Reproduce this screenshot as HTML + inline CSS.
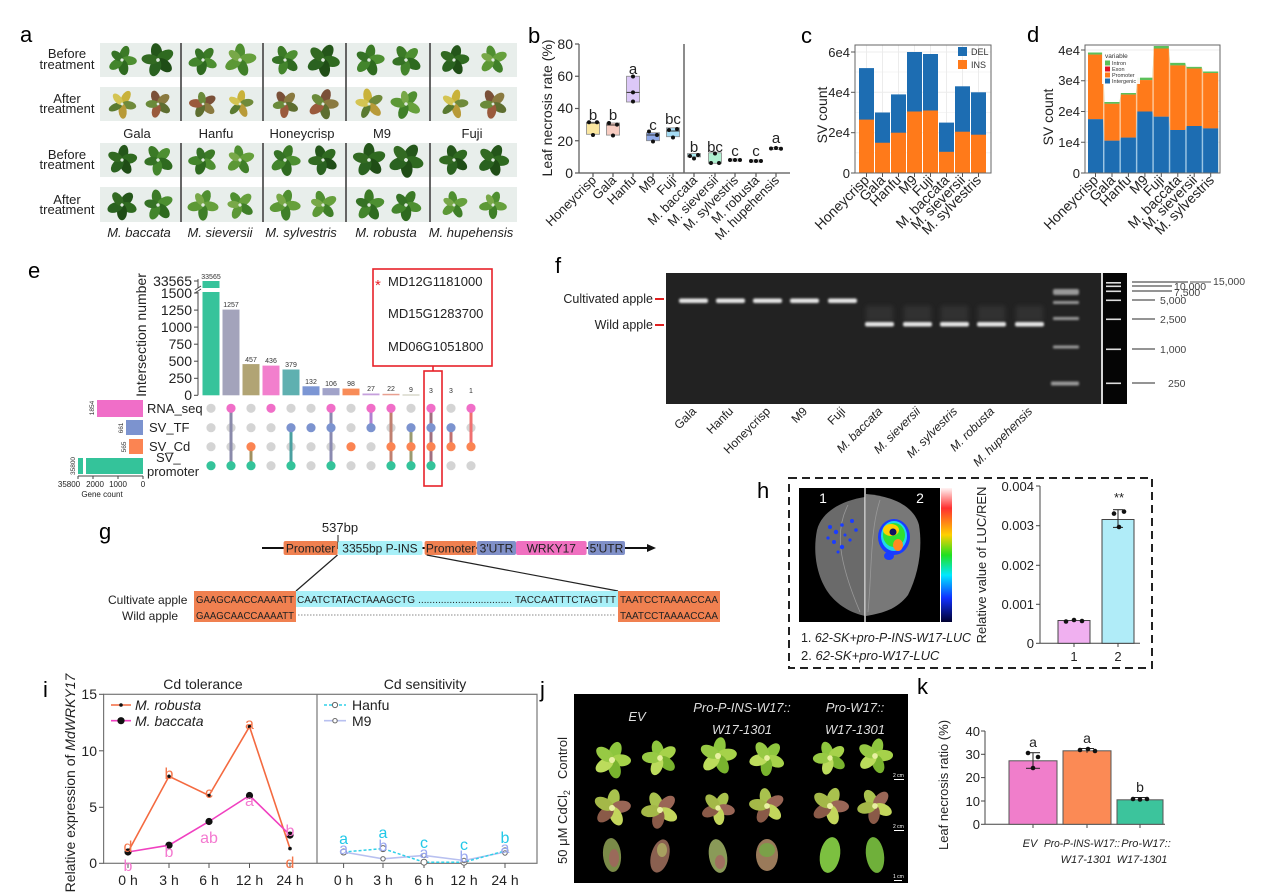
<!DOCTYPE html>
<html><head><meta charset="utf-8"><style>
html,body{margin:0;padding:0;background:#fff;}
svg{display:block;font-family:"Liberation Sans",Arial,sans-serif;}
</style></head><body>
<svg width="1268" height="896" viewBox="0 0 1268 896" xmlns="http://www.w3.org/2000/svg">
<defs>
<filter id="bl" x="-20%" y="-50%" width="140%" height="200%"><feGaussianBlur stdDeviation="1.1"/></filter>
<filter id="bl2" x="-20%" y="-50%" width="140%" height="200%"><feGaussianBlur stdDeviation="2.5"/></filter>
<linearGradient id="cbar" x1="0" y1="0" x2="0" y2="1">
<stop offset="0" stop-color="#fff4f4"/><stop offset="0.15" stop-color="#ff3030"/><stop offset="0.35" stop-color="#ffd000"/><stop offset="0.5" stop-color="#20e020"/><stop offset="0.65" stop-color="#00e8ff"/><stop offset="0.82" stop-color="#1030ff"/><stop offset="1" stop-color="#000030"/>
</linearGradient>
<g id="pg">
<ellipse cx="0" cy="-8" rx="5" ry="8.5" fill="#3b7a26"/>
<ellipse cx="0" cy="-8" rx="5" ry="8.5" fill="#4d8f31" transform="rotate(75)"/>
<ellipse cx="0" cy="-8" rx="5.5" ry="9" fill="#2e6a1f" transform="rotate(150)"/>
<ellipse cx="0" cy="-8" rx="5" ry="8.5" fill="#43852c" transform="rotate(215)"/>
<ellipse cx="0" cy="-7" rx="4.5" ry="7.5" fill="#357225" transform="rotate(290)"/>
<circle r="1.8" fill="#e0eadf"/>
</g>
<g id="pd">
<ellipse cx="0" cy="-8" rx="5.5" ry="9" fill="#24561a"/>
<ellipse cx="0" cy="-8" rx="5.5" ry="9" fill="#2f6a20" transform="rotate(70)"/>
<ellipse cx="0" cy="-8" rx="5.5" ry="9" fill="#1f4d16" transform="rotate(140)"/>
<ellipse cx="0" cy="-8" rx="5.5" ry="9" fill="#2a6220" transform="rotate(210)"/>
<ellipse cx="0" cy="-8" rx="5" ry="8.5" fill="#326a22" transform="rotate(285)"/>
<circle r="1.8" fill="#e0eadf"/>
</g>
<g id="pl">
<ellipse cx="0" cy="-8" rx="5" ry="8.5" fill="#4f8f30"/>
<ellipse cx="0" cy="-8" rx="5" ry="8.5" fill="#66a03c" transform="rotate(80)"/>
<ellipse cx="0" cy="-8" rx="5" ry="8.5" fill="#3f7f28" transform="rotate(160)"/>
<ellipse cx="0" cy="-8" rx="5" ry="8.5" fill="#5c9836" transform="rotate(240)"/>
<ellipse cx="0" cy="-7" rx="4" ry="7" fill="#78a848" transform="rotate(310)"/>
<circle r="1.8" fill="#e0eadf"/>
</g>
<g id="py">
<ellipse cx="0" cy="-8" rx="4.5" ry="8.5" fill="#c9b23a"/>
<ellipse cx="0" cy="-8" rx="4.5" ry="8" fill="#6f8a3a" transform="rotate(70)"/>
<ellipse cx="0" cy="-8" rx="4.5" ry="8.5" fill="#b89a38" transform="rotate(145)"/>
<ellipse cx="0" cy="-8" rx="4" ry="8" fill="#5a7a30" transform="rotate(215)"/>
<ellipse cx="0" cy="-7" rx="4" ry="7.5" fill="#d4c452" transform="rotate(290)"/>
<circle r="1.6" fill="#e0eadf"/>
</g>
<g id="pb">
<ellipse cx="0" cy="-8" rx="5" ry="8.5" fill="#7a5038"/>
<ellipse cx="0" cy="-8" rx="5" ry="8.5" fill="#8a7a40" transform="rotate(70)"/>
<ellipse cx="0" cy="-8" rx="5" ry="8.5" fill="#5e6e30" transform="rotate(145)"/>
<ellipse cx="0" cy="-8" rx="5" ry="8.5" fill="#9a5a3c" transform="rotate(215)"/>
<ellipse cx="0" cy="-7" rx="4.5" ry="7.5" fill="#6a8a3a" transform="rotate(290)"/>
<circle r="1.6" fill="#e0eadf"/>
</g>
<g id="jg">
<ellipse cx="0" cy="-9" rx="6" ry="10" fill="#8ec63e"/>
<ellipse cx="0" cy="-9" rx="6" ry="10" fill="#a6d24a" transform="rotate(72)"/>
<ellipse cx="0" cy="-9" rx="6" ry="10" fill="#79b32e" transform="rotate(144)"/>
<ellipse cx="0" cy="-9" rx="6" ry="10" fill="#bcdc5c" transform="rotate(216)"/>
<ellipse cx="0" cy="-9" rx="6" ry="10" fill="#97c944" transform="rotate(288)"/>
<circle r="3" fill="#e8f0a0"/>
</g>
<g id="jd">
<ellipse cx="0" cy="-9" rx="6" ry="10" fill="#a9c24e"/>
<ellipse cx="0" cy="-9" rx="6" ry="10" fill="#9a6656" transform="rotate(72)"/>
<ellipse cx="0" cy="-9" rx="6" ry="10" fill="#c3d65c" transform="rotate(144)"/>
<ellipse cx="0" cy="-9" rx="6" ry="10" fill="#8a5a48" transform="rotate(216)"/>
<ellipse cx="0" cy="-9" rx="6" ry="10" fill="#a4b848" transform="rotate(288)"/>
<circle r="3" fill="#e8f0a0"/>
</g>
</defs>
<rect width="1268" height="896" fill="#fff"/>

<!-- ===== Panel a ===== -->
<text x="20" y="42" font-size="22">a</text>
<g fill="#e8eeeb">
<rect x="100" y="43" width="417" height="34"/>
<rect x="100" y="87" width="417" height="34"/>
<rect x="100" y="143" width="417" height="34"/>
<rect x="100" y="187" width="417" height="35"/>
</g>
<g stroke="#555" stroke-width="1.8">
<line x1="181" y1="43" x2="181" y2="121"/><line x1="263" y1="43" x2="263" y2="121"/><line x1="346" y1="43" x2="346" y2="121"/><line x1="430" y1="43" x2="430" y2="121"/>
<line x1="181" y1="143" x2="181" y2="222"/><line x1="263" y1="143" x2="263" y2="222"/><line x1="346" y1="143" x2="346" y2="222"/><line x1="430" y1="143" x2="430" y2="222"/>
</g>
<g font-size="13" text-anchor="middle" fill="#222">
<text x="67" y="58">Before</text><text x="67" y="69">treatment</text>
<text x="67" y="103">After</text><text x="67" y="113">treatment</text>
<text x="67" y="159">Before</text><text x="67" y="169">treatment</text>
<text x="67" y="204">After</text><text x="67" y="214">treatment</text>
<text x="137" y="138">Gala</text><text x="216" y="138">Hanfu</text><text x="302" y="138">Honeycrisp</text><text x="382" y="138">M9</text><text x="472" y="138">Fuji</text>
<g font-style="italic"><text x="139" y="237">M. baccata</text><text x="220" y="237">M. sieversii</text><text x="301" y="237">M. sylvestris</text><text x="386" y="237">M. robusta</text><text x="471" y="237">M. hupehensis</text></g>
</g>
<use href="#pg" transform="translate(122,60) rotate(20) scale(0.9)"/>
<use href="#pd" transform="translate(158,60) rotate(-10)"/>
<use href="#pg" transform="translate(203,60) rotate(40) scale(0.9)"/>
<use href="#pl" transform="translate(240,60) rotate(0)"/>
<use href="#pg" transform="translate(285,60) rotate(-20) scale(0.9)"/>
<use href="#pd" transform="translate(323,60) rotate(30)"/>
<use href="#pg" transform="translate(369,60) rotate(10) scale(0.95)"/>
<use href="#pg" transform="translate(406,60) rotate(-30) scale(0.95)"/>
<use href="#pd" transform="translate(454,60) rotate(15) scale(0.9)"/>
<use href="#pl" transform="translate(493,60) rotate(-15) scale(0.9)"/>
<use href="#py" transform="translate(122,104) rotate(30) scale(0.9)"/>
<use href="#pb" transform="translate(158,104) rotate(-20) scale(0.85)"/>
<use href="#pb" transform="translate(203,104) rotate(60) scale(0.85)"/>
<use href="#py" transform="translate(240,104) rotate(10) scale(0.85)"/>
<use href="#pb" transform="translate(285,104) rotate(-30) scale(0.85)"/>
<use href="#pb" transform="translate(323,104) rotate(20) scale(0.95)"/>
<use href="#py" transform="translate(369,104) rotate(-10) scale(0.95)"/>
<use href="#pl" transform="translate(406,104) rotate(40) scale(0.95)"/>
<use href="#py" transform="translate(454,104) rotate(15) scale(0.9)"/>
<use href="#pb" transform="translate(493,104) rotate(-25) scale(0.9)"/>
<use href="#pd" transform="translate(122,160) rotate(10) scale(0.9)"/>
<use href="#pg" transform="translate(158,160) rotate(-30) scale(0.95)"/>
<use href="#pg" transform="translate(203,160) rotate(50) scale(0.9)"/>
<use href="#pl" transform="translate(240,160) rotate(-10) scale(0.9)"/>
<use href="#pg" transform="translate(285,160) rotate(20) scale(0.95)"/>
<use href="#pd" transform="translate(323,160) rotate(-20) scale(0.9)"/>
<use href="#pd" transform="translate(369,160) rotate(0)"/>
<use href="#pd" transform="translate(406,160) rotate(35) scale(1.05)"/>
<use href="#pd" transform="translate(454,160) rotate(-15) scale(0.9)"/>
<use href="#pd" transform="translate(493,160) rotate(25) scale(0.95)"/>
<use href="#pd" transform="translate(122,205) rotate(40) scale(0.9)"/>
<use href="#pg" transform="translate(158,205) rotate(-10) scale(0.95)"/>
<use href="#pl" transform="translate(203,205) rotate(20) scale(0.95)"/>
<use href="#pl" transform="translate(240,205) rotate(-35) scale(0.9)"/>
<use href="#pl" transform="translate(285,205) rotate(15) scale(0.95)"/>
<use href="#pl" transform="translate(323,205) rotate(-20) scale(0.9)"/>
<use href="#pg" transform="translate(369,205) rotate(0) scale(0.95)"/>
<use href="#pg" transform="translate(406,205) rotate(30) scale(0.95)"/>
<use href="#pl" transform="translate(454,205) rotate(-10) scale(0.85)"/>
<use href="#pl" transform="translate(493,205) rotate(20) scale(0.85)"/>

<!-- ===== Panel b ===== -->
<text x="528" y="43" font-size="22">b</text>
<g stroke="#555" stroke-width="1.2" fill="none">
<line x1="579" y1="44" x2="579" y2="173"/><line x1="579" y1="173" x2="790" y2="173"/>
<line x1="575" y1="44" x2="579" y2="44"/><line x1="575" y1="76.25" x2="579" y2="76.25"/><line x1="575" y1="108.5" x2="579" y2="108.5"/><line x1="575" y1="140.75" x2="579" y2="140.75"/><line x1="575" y1="173" x2="579" y2="173"/>
<line x1="593" y1="173" x2="593" y2="177"/><line x1="613" y1="173" x2="613" y2="177"/><line x1="633" y1="173" x2="633" y2="177"/><line x1="653" y1="173" x2="653" y2="177"/><line x1="673" y1="173" x2="673" y2="177"/><line x1="694" y1="173" x2="694" y2="177"/><line x1="715" y1="173" x2="715" y2="177"/><line x1="735" y1="173" x2="735" y2="177"/><line x1="756" y1="173" x2="756" y2="177"/><line x1="776" y1="173" x2="776" y2="177"/>
</g>
<line x1="684" y1="44" x2="684" y2="173" stroke="#666" stroke-width="1.5"/>
<g font-size="14" text-anchor="end" fill="#222">
<text x="573" y="49">80</text><text x="573" y="81">60</text><text x="573" y="113">40</text><text x="573" y="146">20</text><text x="573" y="178">0</text>
</g>
<text transform="translate(552,108) rotate(-90)" font-size="14" text-anchor="middle" fill="#222">Leaf necrosis rate (%)</text>
<g stroke="#888" stroke-width="0.8">
<rect x="586.5" y="122.2" width="13" height="12.1" fill="#fbe7a0"/>
<rect x="606.5" y="123" width="13" height="12.1" fill="#f8cdc2"/>
<rect x="626.5" y="76.25" width="13" height="25.75" fill="#dcc8f8"/>
<rect x="646.5" y="132.7" width="13" height="8" fill="#8ea8e8"/>
<rect x="666.5" y="127.8" width="13" height="8.9" fill="#a6dcf4"/>
<rect x="687.5" y="153.6" width="13" height="3.3" fill="#a8e8f0"/>
<rect x="708.5" y="152.8" width="13" height="10.5" fill="#b0f0d0"/>
<rect x="729" y="159" width="12" height="2" fill="#ddd"/>
<rect x="750" y="160" width="12" height="2" fill="#ddd"/>
<rect x="770" y="147.5" width="12" height="2" fill="#ddd"/>
</g>
<g stroke="#333" stroke-width="1">
<line x1="626.5" y1="92.4" x2="639.5" y2="92.4"/><line x1="586.5" y1="123" x2="599.5" y2="123"/><line x1="606.5" y1="125" x2="619.5" y2="125"/><line x1="646.5" y1="135" x2="659.5" y2="135"/><line x1="666.5" y1="131" x2="679.5" y2="131"/>
</g>
<g fill="#111">
<circle cx="589" cy="122.2" r="2"/><circle cx="597" cy="122.2" r="2"/><circle cx="593" cy="135" r="2"/>
<circle cx="609" cy="123" r="2"/><circle cx="617" cy="124.6" r="2"/><circle cx="613" cy="135.5" r="2"/>
<circle cx="633" cy="76.5" r="2"/><circle cx="633" cy="92.4" r="2"/><circle cx="633" cy="101.5" r="2"/>
<circle cx="649" cy="131.5" r="2"/><circle cx="657" cy="135" r="2"/><circle cx="653" cy="141.5" r="2"/>
<circle cx="669" cy="130" r="2"/><circle cx="677" cy="129" r="2"/><circle cx="673" cy="137.5" r="2"/>
<circle cx="690" cy="156" r="2"/><circle cx="698" cy="155" r="2"/><circle cx="694" cy="158.5" r="2"/>
<circle cx="711" cy="163" r="2"/><circle cx="719" cy="163" r="2"/><circle cx="715" cy="153.5" r="2"/>
<circle cx="730" cy="160" r="2"/><circle cx="735" cy="160" r="2"/><circle cx="740" cy="160" r="2"/>
<circle cx="751" cy="161" r="2"/><circle cx="756" cy="161" r="2"/><circle cx="761" cy="161" r="2"/>
<circle cx="771" cy="148.5" r="2"/><circle cx="776" cy="148" r="2"/><circle cx="781" cy="148.8" r="2"/>
</g>
<g font-size="15" text-anchor="middle" fill="#222">
<text x="593" y="120">b</text><text x="613" y="120">b</text><text x="633" y="74">a</text><text x="653" y="130">c</text><text x="673" y="124">bc</text>
<text x="694" y="152">b</text><text x="715" y="152">bc</text><text x="735" y="156">c</text><text x="756" y="156">c</text><text x="776" y="143">a</text>
</g>
<g font-size="13" text-anchor="end" fill="#222">
<text transform="translate(597,181) rotate(-45)">Honeycrisp</text>
<text transform="translate(617,181) rotate(-45)">Gala</text>
<text transform="translate(637,181) rotate(-45)">Hanfu</text>
<text transform="translate(657,181) rotate(-45)">M9</text>
<text transform="translate(677,181) rotate(-45)">Fuji</text>
<text transform="translate(698,181) rotate(-45)">M. baccata</text>
<text transform="translate(719,181) rotate(-45)">M. sieversii</text>
<text transform="translate(739,181) rotate(-45)">M. sylvestris</text>
<text transform="translate(760,181) rotate(-45)">M. robusta</text>
<text transform="translate(780,181) rotate(-45)">M. hupehensis</text>
</g>

<!-- ===== Panel c ===== -->
<text x="801" y="43" font-size="22">c</text>
<rect x="855" y="45" width="136" height="128" fill="#fff"/>
<g stroke="#ececec" stroke-width="1">
<line x1="855" y1="52" x2="991" y2="52"/><line x1="855" y1="92.3" x2="991" y2="92.3"/><line x1="855" y1="132.7" x2="991" y2="132.7"/>
<line x1="855" y1="72" x2="991" y2="72" stroke-width="0.6"/><line x1="855" y1="112.5" x2="991" y2="112.5" stroke-width="0.6"/><line x1="855" y1="152.8" x2="991" y2="152.8" stroke-width="0.6"/>
<line x1="866.5" y1="45" x2="866.5" y2="173"/><line x1="882.5" y1="45" x2="882.5" y2="173"/><line x1="898.5" y1="45" x2="898.5" y2="173"/><line x1="914.5" y1="45" x2="914.5" y2="173"/><line x1="930.5" y1="45" x2="930.5" y2="173"/><line x1="946.5" y1="45" x2="946.5" y2="173"/><line x1="962.5" y1="45" x2="962.5" y2="173"/><line x1="978.5" y1="45" x2="978.5" y2="173"/>
</g>
<g fill="#1d6db2">
<rect x="859" y="68.1" width="15" height="52"/><rect x="875" y="112.5" width="15" height="31"/><rect x="891" y="94.4" width="15" height="39"/><rect x="907" y="52" width="15" height="60"/><rect x="923" y="54" width="15" height="57"/><rect x="939" y="122.6" width="15" height="30"/><rect x="955" y="86.3" width="15" height="46"/><rect x="971" y="92.3" width="15" height="43"/>
</g>
<g fill="#ff7a1a">
<rect x="859" y="119.6" width="15" height="53.4"/><rect x="875" y="142.75" width="15" height="30.25"/><rect x="891" y="132.7" width="15" height="40.3"/><rect x="907" y="111.5" width="15" height="61.5"/><rect x="923" y="110.5" width="15" height="62.5"/><rect x="939" y="151.8" width="15" height="21.2"/><rect x="955" y="131.7" width="15" height="41.3"/><rect x="971" y="134.7" width="15" height="38.3"/>
</g>
<rect x="855" y="45" width="136" height="128" fill="none" stroke="#666" stroke-width="1"/>
<rect x="958" y="47" width="9" height="9" fill="#1d6db2"/><text x="971" y="55" font-size="9" fill="#333">DEL</text>
<rect x="958" y="60" width="9" height="9" fill="#ff7a1a"/><text x="971" y="68" font-size="9" fill="#333">INS</text>
<g stroke="#555" stroke-width="1"><line x1="851" y1="52" x2="855" y2="52"/><line x1="851" y1="92.3" x2="855" y2="92.3"/><line x1="851" y1="132.7" x2="855" y2="132.7"/><line x1="851" y1="173" x2="855" y2="173"/>
<line x1="866.5" y1="173" x2="866.5" y2="177"/><line x1="882.5" y1="173" x2="882.5" y2="177"/><line x1="898.5" y1="173" x2="898.5" y2="177"/><line x1="914.5" y1="173" x2="914.5" y2="177"/><line x1="930.5" y1="173" x2="930.5" y2="177"/><line x1="946.5" y1="173" x2="946.5" y2="177"/><line x1="962.5" y1="173" x2="962.5" y2="177"/><line x1="978.5" y1="173" x2="978.5" y2="177"/></g>
<g font-size="13" text-anchor="end" fill="#222"><text x="850" y="57">6e4</text><text x="850" y="97">4e4</text><text x="850" y="137">2e4</text><text x="850" y="178">0</text></g>
<text transform="translate(827,115) rotate(-90)" font-size="14" text-anchor="middle" fill="#222">SV count</text>
<g font-size="14" text-anchor="end" fill="#222">
<text transform="translate(870,181) rotate(-45)">Honeycrisp</text>
<text transform="translate(886,181) rotate(-45)">Gala</text>
<text transform="translate(902,181) rotate(-45)">Hanfu</text>
<text transform="translate(918,181) rotate(-45)">M9</text>
<text transform="translate(934,181) rotate(-45)">Fuji</text>
<text transform="translate(950,181) rotate(-45)">M. baccata</text>
<text transform="translate(966,181) rotate(-45)">M. sieversii</text>
<text transform="translate(982,181) rotate(-45)">M. sylvestris</text>
</g>

<!-- ===== Panel d ===== -->
<text x="1027" y="42" font-size="22">d</text>
<rect x="1085" y="45" width="135" height="128" fill="#fff"/>
<g stroke="#ececec" stroke-width="1">
<line x1="1085" y1="50" x2="1220" y2="50"/><line x1="1085" y1="80.75" x2="1220" y2="80.75"/><line x1="1085" y1="111.5" x2="1220" y2="111.5"/><line x1="1085" y1="142.25" x2="1220" y2="142.25"/>
</g>
<polygon fill="#b6e6ae" points="1088,52.5 1103,52.5 1104.45,102 1119.45,102 1120.9,93 1135.9,93 1137.35,77.7 1152.35,77.7 1153.8,46 1168.8,46 1170.25,62.9 1185.25,62.9 1186.7,66.9 1201.7,66.9 1203.15,71.5 1218.15,71.5 1218.15,173 1088,173"/>
<polygon fill="#fdc899" points="1088,54.6 1103,54.6 1104.45,103.8 1119.45,103.8 1120.9,94.6 1135.9,94.6 1137.35,80.1 1152.35,80.1 1153.8,48.5 1168.8,48.5 1170.25,65.4 1185.25,65.4 1186.7,68.5 1201.7,68.5 1203.15,73 1218.15,73 1218.15,173 1088,173"/>
<polygon fill="#9cc6e4" points="1088,119.2 1103,119.2 1104.45,140.7 1119.45,140.7 1120.9,137.6 1135.9,137.6 1137.35,111.5 1152.35,111.5 1153.8,116.7 1168.8,116.7 1170.25,130 1185.25,130 1186.7,126 1201.7,126 1203.15,128.4 1218.15,128.4 1218.15,173 1088,173"/>
<g fill="#5cc05a">
<rect x="1088" y="52.5" width="15" height="2.1"/><rect x="1104.45" y="102" width="15" height="1.8"/><rect x="1120.9" y="93" width="15" height="1.6"/><rect x="1137.35" y="77.7" width="15" height="2.4"/><rect x="1153.8" y="46" width="15" height="2.5"/><rect x="1170.25" y="62.9" width="15" height="2.5"/><rect x="1186.7" y="66.9" width="15" height="1.6"/><rect x="1203.15" y="71.5" width="15" height="1.5"/>
</g>
<g fill="#ff7a1a">
<rect x="1088" y="54.6" width="15" height="64.6"/><rect x="1104.45" y="103.8" width="15" height="36.9"/><rect x="1120.9" y="94.6" width="15" height="43"/><rect x="1137.35" y="80.1" width="15" height="31.4"/><rect x="1153.8" y="48.5" width="15" height="68.2"/><rect x="1170.25" y="65.4" width="15" height="64.6"/><rect x="1186.7" y="68.5" width="15" height="57.5"/><rect x="1203.15" y="73" width="15" height="55.4"/>
</g>
<g fill="#1d6db2">
<rect x="1088" y="119.2" width="15" height="53.8"/><rect x="1104.45" y="140.7" width="15" height="32.3"/><rect x="1120.9" y="137.6" width="15" height="35.4"/><rect x="1137.35" y="111.5" width="15" height="61.5"/><rect x="1153.8" y="116.7" width="15" height="56.3"/><rect x="1170.25" y="130" width="15" height="43"/><rect x="1186.7" y="126" width="15" height="47"/><rect x="1203.15" y="128.4" width="15" height="44.6"/>
</g>
<rect x="1085" y="45" width="135" height="128" fill="none" stroke="#666" stroke-width="1"/>
<rect x="1102" y="51" width="38" height="33" fill="#fff" opacity="0.9"/>
<text x="1105" y="58" font-size="6.5" fill="#333">variable</text>
<rect x="1105" y="60.5" width="5" height="5" fill="#5cc05a"/><text x="1112" y="65" font-size="5.5" fill="#333">Intron</text>
<rect x="1105" y="66.5" width="5" height="5" fill="#e01020"/><text x="1112" y="71" font-size="5.5" fill="#333">Exon</text>
<rect x="1105" y="72.5" width="5" height="5" fill="#ff7a1a"/><text x="1112" y="77" font-size="5.5" fill="#333">Promoter</text>
<rect x="1105" y="78.5" width="5" height="5" fill="#1d6db2"/><text x="1112" y="83" font-size="5.5" fill="#333">Intergenic</text>
<g stroke="#555" stroke-width="1"><line x1="1081" y1="50" x2="1085" y2="50"/><line x1="1081" y1="80.75" x2="1085" y2="80.75"/><line x1="1081" y1="111.5" x2="1085" y2="111.5"/><line x1="1081" y1="142.25" x2="1085" y2="142.25"/><line x1="1081" y1="173" x2="1085" y2="173"/>
<line x1="1095.5" y1="173" x2="1095.5" y2="177"/><line x1="1112" y1="173" x2="1112" y2="177"/><line x1="1128.4" y1="173" x2="1128.4" y2="177"/><line x1="1144.9" y1="173" x2="1144.9" y2="177"/><line x1="1161.3" y1="173" x2="1161.3" y2="177"/><line x1="1177.8" y1="173" x2="1177.8" y2="177"/><line x1="1194.2" y1="173" x2="1194.2" y2="177"/><line x1="1210.7" y1="173" x2="1210.7" y2="177"/></g>
<g font-size="13" text-anchor="end" fill="#222"><text x="1080" y="55">4e4</text><text x="1080" y="85">3e4</text><text x="1080" y="116">2e4</text><text x="1080" y="147">1e4</text><text x="1080" y="178">0</text></g>
<text transform="translate(1053,117) rotate(-90)" font-size="14" text-anchor="middle" fill="#222">SV count</text>
<g font-size="14" text-anchor="end" fill="#222">
<text transform="translate(1099,181) rotate(-45)">Honeycrisp</text>
<text transform="translate(1116,181) rotate(-45)">Gala</text>
<text transform="translate(1132,181) rotate(-45)">Hanfu</text>
<text transform="translate(1149,181) rotate(-45)">M9</text>
<text transform="translate(1165,181) rotate(-45)">Fuji</text>
<text transform="translate(1182,181) rotate(-45)">M. baccata</text>
<text transform="translate(1198,181) rotate(-45)">M. sieversii</text>
<text transform="translate(1215,181) rotate(-45)">M. sylvestris</text>
</g>

<!-- ===== Panel e ===== -->
<text x="28" y="278" font-size="22">e</text>
<g stroke="#444" stroke-width="1">
<line x1="198" y1="279" x2="198" y2="288"/><line x1="198" y1="292" x2="198" y2="395.3"/>
<line x1="194" y1="281" x2="198" y2="281"/><line x1="194" y1="293" x2="198" y2="293"/><line x1="194" y1="310.1" x2="198" y2="310.1"/><line x1="194" y1="327.1" x2="198" y2="327.1"/><line x1="194" y1="344.2" x2="198" y2="344.2"/><line x1="194" y1="361.2" x2="198" y2="361.2"/><line x1="194" y1="378.3" x2="198" y2="378.3"/><line x1="194" y1="395.3" x2="198" y2="395.3"/>
<line x1="195" y1="290" x2="201" y2="286"/><line x1="195" y1="293" x2="201" y2="289"/>
</g>
<g font-size="14" text-anchor="end" fill="#222">
<text x="192" y="286">33565</text><text x="192" y="298">1500</text><text x="192" y="315">1250</text><text x="192" y="332">1000</text><text x="192" y="349">750</text><text x="192" y="366">500</text><text x="192" y="383">250</text><text x="192" y="400">0</text>
</g>
<text transform="translate(146,335) rotate(-90)" font-size="14" text-anchor="middle" fill="#222">Intersection number</text>
<rect x="202.5" y="281" width="17" height="7" fill="#36c39b"/>
<rect x="202.5" y="292" width="17" height="103.3" fill="#36c39b"/>
<rect x="222.5" y="309.6" width="17" height="85.7" fill="#a3a3bb"/>
<rect x="242.5" y="364.1" width="17" height="31.2" fill="#b1a474"/>
<rect x="262.5" y="365.6" width="17" height="29.7" fill="#f27fcd"/>
<rect x="282.5" y="369.5" width="17" height="25.8" fill="#5fb0b0"/>
<rect x="302.5" y="386.3" width="17" height="9" fill="#7c96d4"/>
<rect x="322.5" y="388.1" width="17" height="7.2" fill="#a1a3c9"/>
<rect x="342.5" y="388.6" width="17" height="6.7" fill="#f88c58"/>
<rect x="362.5" y="393.5" width="17" height="1.8" fill="#c6a0dc"/>
<rect x="382.5" y="393.8" width="17" height="1.5" fill="#e8a090"/>
<rect x="402.5" y="394.7" width="17" height="0.6" fill="#a0a080"/>
<g font-size="7" text-anchor="middle" fill="#333">
<text x="211" y="279">33565</text><text x="231" y="307">1257</text><text x="251" y="362">457</text><text x="271" y="363">436</text><text x="291" y="367">379</text><text x="311" y="384">132</text><text x="331" y="386">106</text><text x="351" y="386">98</text><text x="371" y="391">27</text><text x="391" y="391">22</text><text x="411" y="392">9</text><text x="431" y="393">3</text><text x="451" y="393">3</text><text x="471" y="393">1</text>
</g>
<g fill="#d4d4d4">
<circle cx="211" cy="408.3" r="4.6"/><circle cx="211" cy="427.7" r="4.6"/><circle cx="211" cy="446.7" r="4.6"/>
<circle cx="231" cy="427.7" r="4.6"/><circle cx="231" cy="446.7" r="4.6"/>
<circle cx="251" cy="408.3" r="4.6"/><circle cx="251" cy="427.7" r="4.6"/>
<circle cx="271" cy="427.7" r="4.6"/><circle cx="271" cy="446.7" r="4.6"/><circle cx="271" cy="465.7" r="4.6"/>
<circle cx="291" cy="408.3" r="4.6"/><circle cx="291" cy="446.7" r="4.6"/>
<circle cx="311" cy="408.3" r="4.6"/><circle cx="311" cy="446.7" r="4.6"/><circle cx="311" cy="465.7" r="4.6"/>
<circle cx="331" cy="446.7" r="4.6"/>
<circle cx="351" cy="408.3" r="4.6"/><circle cx="351" cy="427.7" r="4.6"/><circle cx="351" cy="465.7" r="4.6"/>
<circle cx="371" cy="446.7" r="4.6"/><circle cx="371" cy="465.7" r="4.6"/>
<circle cx="391" cy="427.7" r="4.6"/>
<circle cx="411" cy="408.3" r="4.6"/>
<circle cx="451" cy="408.3" r="4.6"/><circle cx="451" cy="465.7" r="4.6"/>
<circle cx="471" cy="427.7" r="4.6"/><circle cx="471" cy="465.7" r="4.6"/>
</g>
<g stroke-width="3">
<line x1="231" y1="408.3" x2="231" y2="465.7" stroke="#8a8aaa"/>
<line x1="251" y1="446.7" x2="251" y2="465.7" stroke="#a09060"/>
<line x1="291" y1="427.7" x2="291" y2="465.7" stroke="#4aa0a0"/>
<line x1="331" y1="408.3" x2="331" y2="465.7" stroke="#8a8ab0"/>
<line x1="371" y1="408.3" x2="371" y2="427.7" stroke="#b080d0"/>
<line x1="391" y1="408.3" x2="391" y2="465.7" stroke="#c08070"/>
<line x1="411" y1="427.7" x2="411" y2="465.7" stroke="#9a9a70"/>
<line x1="431" y1="408.3" x2="431" y2="465.7" stroke="#a07080"/>
<line x1="451" y1="427.7" x2="451" y2="446.7" stroke="#c07070"/>
<line x1="471" y1="408.3" x2="471" y2="446.7" stroke="#f07070"/>
</g>
<g fill="#f06ec8"><circle cx="231" cy="408.3" r="4.6"/><circle cx="271" cy="408.3" r="4.6"/><circle cx="331" cy="408.3" r="4.6"/><circle cx="371" cy="408.3" r="4.6"/><circle cx="391" cy="408.3" r="4.6"/><circle cx="431" cy="408.3" r="4.6"/><circle cx="471" cy="408.3" r="4.6"/></g>
<g fill="#7c93cf"><circle cx="291" cy="427.7" r="4.6"/><circle cx="311" cy="427.7" r="4.6"/><circle cx="331" cy="427.7" r="4.6"/><circle cx="371" cy="427.7" r="4.6"/><circle cx="411" cy="427.7" r="4.6"/><circle cx="431" cy="427.7" r="4.6"/><circle cx="451" cy="427.7" r="4.6"/></g>
<g fill="#fb8452"><circle cx="251" cy="446.7" r="4.6"/><circle cx="351" cy="446.7" r="4.6"/><circle cx="391" cy="446.7" r="4.6"/><circle cx="411" cy="446.7" r="4.6"/><circle cx="431" cy="446.7" r="4.6"/><circle cx="451" cy="446.7" r="4.6"/><circle cx="471" cy="446.7" r="4.6"/></g>
<g fill="#34c39a"><circle cx="211" cy="465.7" r="4.6"/><circle cx="231" cy="465.7" r="4.6"/><circle cx="251" cy="465.7" r="4.6"/><circle cx="291" cy="465.7" r="4.6"/><circle cx="331" cy="465.7" r="4.6"/><circle cx="391" cy="465.7" r="4.6"/><circle cx="411" cy="465.7" r="4.6"/><circle cx="431" cy="465.7" r="4.6"/></g>
<rect x="97" y="400" width="46" height="17" fill="#f06ec8"/>
<rect x="126" y="420" width="17" height="15" fill="#7c93cf"/>
<rect x="129" y="439" width="14" height="15" fill="#fb8452"/>
<rect x="78" y="458" width="5" height="16" fill="#34c39a"/>
<rect x="86" y="458" width="57" height="16" fill="#34c39a"/>
<g font-size="6.5" fill="#333" text-anchor="middle">
<text transform="translate(94,408) rotate(-90)">1854</text>
<text transform="translate(123,428) rotate(-90)">661</text>
<text transform="translate(126,447) rotate(-90)">565</text>
<text transform="translate(75,466) rotate(-90)">35800</text>
</g>
<g font-size="13" fill="#222">
<text x="147" y="413">RNA_seq</text><text x="149" y="432">SV_TF</text><text x="149" y="451">SV_Cd</text><text x="156" y="462">SV_</text><text x="147" y="476">promoter</text>
</g>
<line x1="78" y1="476" x2="143" y2="476" stroke="#444" stroke-width="1"/>
<g stroke="#444"><line x1="78" y1="476" x2="78" y2="479"/><line x1="93" y1="476" x2="93" y2="479"/><line x1="118" y1="476" x2="118" y2="479"/><line x1="143" y1="476" x2="143" y2="479"/></g>
<g font-size="8" fill="#222" text-anchor="middle"><text x="69" y="487">35800</text><text x="95" y="487">2000</text><text x="118" y="487">1000</text><text x="143" y="487">0</text><text x="102" y="497">Gene count</text></g>
<rect x="373" y="269" width="119" height="97" fill="none" stroke="#e8222a" stroke-width="1.6"/>
<line x1="433" y1="366" x2="433" y2="371" stroke="#e8222a" stroke-width="1.6"/>
<rect x="424" y="371" width="18" height="115" fill="none" stroke="#e8222a" stroke-width="1.6"/>
<text x="375" y="290" font-size="15" fill="#e8222a">*</text>
<g font-size="13" fill="#222"><text x="388" y="286">MD12G1181000</text><text x="388" y="318">MD15G1283700</text><text x="388" y="351">MD06G1051800</text></g>

<!-- ===== Panel f ===== -->
<text x="555" y="273" font-size="22">f</text>
<rect x="666" y="273" width="435" height="131" fill="#222"/>
<rect x="1103" y="273" width="24" height="131" fill="#050505"/>
<line x1="1102" y1="273" x2="1102" y2="404" stroke="#ccc" stroke-width="1.5"/>
<g filter="url(#bl2)" fill="#444" opacity="0.45">
<rect x="866" y="306" width="27" height="15"/><rect x="904" y="306" width="27" height="15"/><rect x="941" y="306" width="27" height="15"/><rect x="978" y="306" width="27" height="15"/><rect x="1016" y="306" width="27" height="15"/>
</g>
<g filter="url(#bl)" fill="#e6e6e6">
<rect x="679" y="298.5" width="29" height="4.5" rx="2"/><rect x="716" y="298.5" width="29" height="4.5" rx="2"/><rect x="753" y="298.5" width="29" height="4.5" rx="2"/><rect x="790" y="298.5" width="29" height="4.5" rx="2"/><rect x="828" y="298.5" width="29" height="4.5" rx="2"/>
<rect x="865" y="322" width="29" height="4.5" rx="2"/><rect x="903" y="322" width="29" height="4.5" rx="2"/><rect x="940" y="322" width="29" height="4.5" rx="2"/><rect x="977" y="322" width="29" height="4.5" rx="2"/><rect x="1015" y="322" width="29" height="4.5" rx="2"/>
</g>
<g filter="url(#bl)" fill="#9a9a9a">
<rect x="1053" y="289" width="26" height="6" rx="2"/><rect x="1053" y="301" width="26" height="3" rx="1"/><rect x="1053" y="317" width="26" height="3" rx="1"/><rect x="1053" y="345.5" width="26" height="3" rx="1"/><rect x="1051" y="381.5" width="28" height="4" rx="1"/>
</g>
<g fill="#ddd">
<rect x="1106" y="282" width="15" height="1.6"/><rect x="1106" y="285.5" width="15" height="1.6"/><rect x="1106" y="290.5" width="15" height="1.6"/><rect x="1106" y="299.5" width="15" height="1.6"/><rect x="1106" y="318.5" width="15" height="1.6"/><rect x="1106" y="348.5" width="15" height="1.6"/><rect x="1106" y="382.5" width="15" height="1.6"/>
</g>
<g stroke="#555" stroke-width="1.2">
<line x1="1132" y1="282" x2="1188" y2="282"/><line x1="1132" y1="286" x2="1172" y2="286"/><line x1="1132" y1="291" x2="1172" y2="291"/><line x1="1132" y1="300" x2="1155" y2="300"/><line x1="1132" y1="319" x2="1155" y2="319"/><line x1="1132" y1="349" x2="1155" y2="349"/><line x1="1132" y1="383" x2="1155" y2="383"/>
</g>
<g font-size="10.5" fill="#444">
<text x="1213" y="285">15,000</text><text x="1174" y="290">10,000</text><text x="1174" y="296">7,500</text><text x="1160" y="304">5,000</text><text x="1160" y="323">2,500</text><text x="1160" y="353">1,000</text><text x="1168" y="387">250</text>
</g>
<line x1="1190" y1="282" x2="1211" y2="282" stroke="#555" stroke-width="1"/>
<g font-size="12.5" fill="#222" text-anchor="end"><text x="653" y="303">Cultivated apple</text><text x="653" y="329">Wild apple</text></g>
<g stroke="#e02020" stroke-width="2"><line x1="655" y1="299" x2="664" y2="299"/><line x1="655" y1="325" x2="664" y2="325"/></g>
<g font-size="12" text-anchor="end" fill="#222">
<text transform="translate(697,412) rotate(-45)">Gala</text>
<text transform="translate(734,412) rotate(-45)">Hanfu</text>
<text transform="translate(771,412) rotate(-45)">Honeycrisp</text>
<text transform="translate(808,412) rotate(-45)">M9</text>
<text transform="translate(846,412) rotate(-45)">Fuji</text>
<g font-style="italic">
<text transform="translate(883,412) rotate(-45)">M. baccata</text>
<text transform="translate(921,412) rotate(-45)">M. sieversii</text>
<text transform="translate(958,412) rotate(-45)">M. sylvestris</text>
<text transform="translate(995,412) rotate(-45)">M. robusta</text>
<text transform="translate(1033,412) rotate(-45)">M. hupehensis</text>
</g>
</g>

<!-- ===== Panel g ===== -->
<text x="99" y="539" font-size="22">g</text>
<text x="340" y="532" font-size="13" text-anchor="middle" fill="#222">537bp</text>
<line x1="338" y1="535" x2="338" y2="547" stroke="#222" stroke-width="1"/>
<line x1="262" y1="548" x2="650" y2="548" stroke="#111" stroke-width="2"/>
<polygon points="647,544 656,548 647,552" fill="#111"/>
<rect x="283.6" y="541" width="54" height="14" rx="2" fill="#f08050"/>
<rect x="338" y="541" width="84.5" height="14" rx="2" fill="#a8f0f8"/>
<rect x="424.6" y="541" width="52" height="14" rx="2" fill="#f08050"/>
<rect x="477" y="541" width="39" height="14" rx="2" fill="#8090c8"/>
<rect x="516" y="541" width="70.6" height="14" rx="2" fill="#f070c0"/>
<rect x="588" y="541" width="37" height="14" rx="2" fill="#8090c8"/>
<g font-size="12" fill="#222" text-anchor="middle">
<text x="310.6" y="552.5">Promoter</text><text x="380" y="552.5">3355bp P-INS</text><text x="450.6" y="552.5">Promoter</text><text x="496.5" y="552.5">3'UTR</text><text x="551.3" y="552.5">WRKY17</text><text x="606.5" y="552.5">5'UTR</text>
</g>
<g stroke="#222" stroke-width="1.2"><line x1="337.5" y1="555" x2="296" y2="591"/><line x1="426.7" y1="555" x2="618" y2="591"/></g>
<rect x="194" y="591" width="102" height="31" fill="#f08050"/>
<rect x="296" y="591" width="322" height="16" fill="#a8f0f8"/>
<rect x="618" y="591" width="102" height="31" fill="#f08050"/>
<line x1="298" y1="615" x2="616" y2="615" stroke="#888" stroke-width="1" stroke-dasharray="1.5,1.5"/>
<g font-size="12" fill="#222"><text x="108" y="604">Cultivate apple</text><text x="122" y="620">Wild apple</text></g>
<g font-size="10" fill="#222">
<text x="196" y="603" textLength="98" lengthAdjust="spacingAndGlyphs">GAAGCAACCAAAATT</text>
<text x="297" y="603" textLength="118" lengthAdjust="spacingAndGlyphs">CAATCTATACTAAAGCTG</text>
<text x="418" y="603" textLength="94" lengthAdjust="spacingAndGlyphs">.................................</text>
<text x="515" y="603" textLength="101" lengthAdjust="spacingAndGlyphs">TACCAATTTCTAGTTT</text>
<text x="620" y="603" textLength="98" lengthAdjust="spacingAndGlyphs">TAATCCTAAAACCAA</text>
<text x="196" y="619" textLength="98" lengthAdjust="spacingAndGlyphs">GAAGCAACCAAAATT</text>
<text x="620" y="619" textLength="98" lengthAdjust="spacingAndGlyphs">TAATCCTAAAACCAA</text>
</g>

<!-- ===== Panel h ===== -->
<text x="757" y="498" font-size="22">h</text>
<rect x="789" y="478" width="363" height="190" fill="none" stroke="#222" stroke-width="2" stroke-dasharray="8,5"/>
<rect x="799" y="488" width="141" height="134" fill="#000"/>
<path d="M865,497 C845,500 822,510 817,530 C812,555 818,580 830,595 C840,607 852,613 865,616 Z" fill="#6a6a6a"/>
<path d="M866,494 C892,496 914,506 919,525 C923,550 918,575 908,595 C898,608 885,613 866,616 Z" fill="#787878"/>
<g stroke="#999" stroke-width="0.8" fill="none"><path d="M848,505 C835,530 838,560 860,612"/><path d="M880,500 C870,530 872,570 868,612"/></g>
<line x1="865" y1="488" x2="865" y2="622" stroke="#ddd" stroke-width="1.5"/>
<g fill="#1a3cff">
<circle cx="830" cy="527" r="2"/><circle cx="836" cy="532" r="2.2"/><circle cx="842" cy="525" r="1.8"/><circle cx="852" cy="521" r="2"/><circle cx="856" cy="530" r="1.8"/><circle cx="834" cy="542" r="2"/><circle cx="842" cy="547" r="2.2"/><circle cx="850" cy="540" r="1.6"/><circle cx="828" cy="538" r="1.6"/><circle cx="845" cy="535" r="1.5"/><circle cx="838" cy="552" r="1.5"/>
</g>
<ellipse cx="894" cy="537" rx="16" ry="18" fill="#1a3cff"/>
<ellipse cx="894" cy="536" rx="13" ry="15" fill="#20d8e8"/>
<ellipse cx="894" cy="535" rx="11" ry="12" fill="#30e030"/>
<ellipse cx="891" cy="530" rx="8" ry="6" fill="#ffd000"/>
<ellipse cx="898" cy="545" rx="5" ry="6" fill="#ff8a20"/>
<circle cx="893" cy="532" r="3.5" fill="#101060"/>
<ellipse cx="889" cy="556" rx="5" ry="4" fill="#1a3cff"/>
<rect x="941" y="488" width="11" height="134" fill="url(#cbar)"/>
<g font-size="14" fill="#fff" text-anchor="middle"><text x="823" y="503">1</text><text x="920" y="503">2</text></g>
<g font-size="13" fill="#222"><text x="801" y="642" textLength="170" lengthAdjust="spacingAndGlyphs">1. <tspan font-style="italic">62-SK+pro-P-INS-W17-LUC</tspan></text><text x="801" y="660">2. <tspan font-style="italic">62-SK+pro-W17-LUC</tspan></text></g>
<text transform="translate(986,565) rotate(-90)" font-size="13" text-anchor="middle" fill="#222">Relative value of LUC/REN</text>
<g stroke="#444" stroke-width="1"><line x1="1040" y1="486" x2="1040" y2="643.3"/><line x1="1040" y1="643.3" x2="1140" y2="643.3"/>
<line x1="1036" y1="486" x2="1040" y2="486"/><line x1="1036" y1="525.7" x2="1040" y2="525.7"/><line x1="1036" y1="565.3" x2="1040" y2="565.3"/><line x1="1036" y1="604.3" x2="1040" y2="604.3"/><line x1="1036" y1="643.3" x2="1040" y2="643.3"/>
<line x1="1074" y1="643.3" x2="1074" y2="647"/><line x1="1118" y1="643.3" x2="1118" y2="647"/></g>
<g font-size="13" fill="#222" text-anchor="end"><text x="1034" y="491">0.004</text><text x="1034" y="530">0.003</text><text x="1034" y="570">0.002</text><text x="1034" y="609">0.001</text><text x="1034" y="648">0</text></g>
<rect x="1058" y="620.5" width="32" height="22.8" fill="#f0b0f0" stroke="#444" stroke-width="1"/>
<rect x="1102" y="519.5" width="32" height="123.8" fill="#b0ecf8" stroke="#444" stroke-width="1"/>
<g stroke="#222" stroke-width="1"><line x1="1118" y1="509.7" x2="1118" y2="527.4"/><line x1="1113" y1="509.7" x2="1123" y2="509.7"/><line x1="1113" y1="527.4" x2="1123" y2="527.4"/></g>
<g fill="#111"><circle cx="1066" cy="621.5" r="2.3"/><circle cx="1074" cy="620" r="2.3"/><circle cx="1082" cy="621" r="2.3"/><circle cx="1114" cy="513.6" r="2.3"/><circle cx="1124" cy="511.6" r="2.3"/><circle cx="1119" cy="527" r="2.3"/></g>
<text x="1119" y="502" font-size="13" text-anchor="middle" fill="#222">**</text>
<g font-size="13" fill="#222" text-anchor="middle"><text x="1074" y="661">1</text><text x="1118" y="661">2</text></g>

<!-- ===== Panel i ===== -->
<text x="43" y="697" font-size="22">i</text>
<rect x="103.6" y="694.3" width="433.4" height="169" fill="none" stroke="#777" stroke-width="1.2"/>
<line x1="317" y1="694.3" x2="317" y2="863.3" stroke="#777" stroke-width="1.2"/>
<g stroke="#555" stroke-width="1"><line x1="99" y1="694.3" x2="103.6" y2="694.3"/><line x1="99" y1="750.8" x2="103.6" y2="750.8"/><line x1="99" y1="807.3" x2="103.6" y2="807.3"/><line x1="99" y1="863.3" x2="103.6" y2="863.3"/>
<line x1="128" y1="863.3" x2="128" y2="868"/><line x1="169" y1="863.3" x2="169" y2="868"/><line x1="209" y1="863.3" x2="209" y2="868"/><line x1="249.5" y1="863.3" x2="249.5" y2="868"/><line x1="290" y1="863.3" x2="290" y2="868"/>
<line x1="343.6" y1="863.3" x2="343.6" y2="868"/><line x1="383" y1="863.3" x2="383" y2="868"/><line x1="424" y1="863.3" x2="424" y2="868"/><line x1="464" y1="863.3" x2="464" y2="868"/><line x1="505" y1="863.3" x2="505" y2="868"/></g>
<g font-size="14" fill="#222" text-anchor="end"><text x="97" y="699">15</text><text x="97" y="756">10</text><text x="97" y="812">5</text><text x="97" y="868">0</text></g>
<g font-size="14" fill="#222" text-anchor="middle">
<text x="128" y="885">0 h</text><text x="169" y="885">3 h</text><text x="209" y="885">6 h</text><text x="249.5" y="885">12 h</text><text x="290" y="885">24 h</text>
<text x="343.6" y="885">0 h</text><text x="383" y="885">3 h</text><text x="424" y="885">6 h</text><text x="464" y="885">12 h</text><text x="505" y="885">24 h</text>
<text x="203" y="689">Cd tolerance</text><text x="425" y="689">Cd sensitivity</text>
</g>
<text transform="translate(75,783) rotate(-90)" font-size="14" text-anchor="middle" fill="#222">Relative expression of <tspan font-style="italic">MdWRKY17</tspan></text>
<polyline points="128,852 169,776.3 209,795.5 249.5,726.6 290,848.6" fill="none" stroke="#f46a40" stroke-width="1.6"/>
<polyline points="128,852 169,845.2 209,821.5 249.5,795.5 290,835.1" fill="none" stroke="#f040c0" stroke-width="1.6"/>
<g fill="#111"><circle cx="128" cy="852" r="1.8"/><circle cx="169" cy="776.3" r="1.8"/><circle cx="209" cy="795.5" r="1.8"/><circle cx="249.5" cy="726.6" r="1.8"/><circle cx="290" cy="848.6" r="1.8"/>
<circle cx="128" cy="852" r="3.6"/><circle cx="169" cy="845.2" r="3.6"/><circle cx="209" cy="821.5" r="3.6"/><circle cx="249.5" cy="795.5" r="3.6"/><circle cx="290" cy="835.1" r="3.6"/></g>
<polyline points="343.6,852 383,858.8 424,855.4 464,860.5 505,852" fill="none" stroke="#b8c0f0" stroke-width="1.6"/>
<polyline points="343.6,852 383,848.6 424,862.2 464,862.2 505,850.9" fill="none" stroke="#30d0e8" stroke-width="1.5" stroke-dasharray="3,2"/>
<g fill="#fff" stroke="#666" stroke-width="1"><circle cx="343.6" cy="852" r="3"/><circle cx="383" cy="848.6" r="3"/><circle cx="424" cy="862.2" r="3"/><circle cx="464" cy="862.2" r="3"/><circle cx="505" cy="850.9" r="3"/>
<circle cx="383" cy="858.8" r="2.2"/><circle cx="424" cy="855.4" r="2.2"/><circle cx="464" cy="860.5" r="2.2"/><circle cx="505" cy="853" r="2.2"/></g>
<g font-size="16" text-anchor="middle">
<g fill="#f4754a"><text x="128" y="852">d</text><text x="169" y="779">b</text><text x="209" y="798">c</text><text x="249.5" y="729">a</text><text x="290" y="868">d</text></g>
<g fill="#f47ad0"><text x="128" y="871">b</text><text x="169" y="857">b</text><text x="209" y="843">ab</text><text x="249.5" y="806">a</text><text x="290" y="836">b</text></g>
<g fill="#22c8e8"><text x="343.6" y="844">a</text><text x="383" y="838">a</text><text x="424" y="848">c</text><text x="464" y="850">c</text><text x="505" y="843">b</text></g>
<g fill="#9aa8f0"><text x="343.6" y="854">a</text><text x="383" y="851">b</text><text x="424" y="858">a</text><text x="464" y="862">b</text><text x="505" y="853">a</text></g>
</g>
<line x1="111" y1="705" x2="131" y2="705" stroke="#f46a40" stroke-width="1.6"/><circle cx="121" cy="705" r="1.8" fill="#111"/>
<line x1="111" y1="720.7" x2="131" y2="720.7" stroke="#f040c0" stroke-width="1.6"/><circle cx="121" cy="720.7" r="3.6" fill="#111"/>
<g font-size="14" font-style="italic" fill="#222"><text x="135" y="710">M. robusta</text><text x="135" y="726">M. baccata</text></g>
<line x1="324" y1="705" x2="346" y2="705" stroke="#30d0e8" stroke-width="1.5" stroke-dasharray="3,2"/><circle cx="335" cy="705" r="2.6" fill="#fff" stroke="#666"/>
<line x1="324" y1="720.7" x2="346" y2="720.7" stroke="#b8c0f0" stroke-width="1.6"/><circle cx="335" cy="720.7" r="2.2" fill="#fff" stroke="#666"/>
<g font-size="14" fill="#222"><text x="352" y="710">Hanfu</text><text x="352" y="726">M9</text></g>

<!-- ===== Panel j ===== -->
<text x="540" y="697" font-size="22">j</text>
<text transform="translate(567,758) rotate(-90)" font-size="13" text-anchor="middle" fill="#222">Control</text>
<text transform="translate(567,827) rotate(-90)" font-size="13" text-anchor="middle" fill="#222">50 μM CdCl<tspan font-size="9" dy="3">2</tspan></text>
<rect x="574" y="694" width="334" height="189" fill="#000"/>
<g font-size="13" font-style="italic" fill="#ddd" text-anchor="middle">
<text x="637" y="721">EV</text><text x="742" y="712">Pro-P-INS-W17::</text><text x="742" y="734">W17-1301</text><text x="855" y="712">Pro-W17::</text><text x="855" y="734">W17-1301</text>
</g>
<use href="#jg" transform="translate(612,760) rotate(20)"/>
<use href="#jg" transform="translate(660,758) rotate(-15) scale(0.95)"/>
<use href="#jg" transform="translate(718,756) rotate(10)"/>
<use href="#jg" transform="translate(767,758) rotate(40) scale(0.95)"/>
<use href="#jg" transform="translate(830,758) rotate(-20) scale(0.9)"/>
<use href="#jg" transform="translate(875,756) rotate(15) scale(0.95)"/>
<use href="#jd" transform="translate(612,808) rotate(10)"/>
<use href="#jd" transform="translate(660,810) rotate(-25)"/>
<use href="#jd" transform="translate(718,808) rotate(30) scale(0.9)"/>
<use href="#jd" transform="translate(767,806) rotate(-10) scale(0.95)"/>
<use href="#jd" transform="translate(830,806) rotate(20)"/>
<use href="#jd" transform="translate(875,806) rotate(-30) scale(0.95)"/>
<ellipse cx="612" cy="855" rx="9" ry="17" fill="#7a8a48" transform="rotate(-5 612 855)"/>
<ellipse cx="614" cy="858" rx="5" ry="9" fill="#9a6a5a"/>
<ellipse cx="660" cy="856" rx="9" ry="17" fill="#8a6050" transform="rotate(15 660 856)"/>
<ellipse cx="662" cy="850" rx="5" ry="7" fill="#a8a060"/>
<ellipse cx="718" cy="856" rx="9" ry="17" fill="#8a9a58" transform="rotate(-10 718 856)"/>
<ellipse cx="720" cy="862" rx="5" ry="7" fill="#a07060"/>
<ellipse cx="767" cy="855" rx="11" ry="16" fill="#9a7a5a"/>
<ellipse cx="767" cy="850" rx="8" ry="7" fill="#7aa048"/>
<ellipse cx="830" cy="855" rx="10" ry="18" fill="#7cc040" transform="rotate(10 830 855)"/>
<ellipse cx="875" cy="855" rx="9" ry="18" fill="#6fb03a" transform="rotate(-8 875 855)"/>
<g fill="#fff"><rect x="894" y="779" width="10" height="1"/><rect x="894" y="830" width="10" height="1"/><rect x="894" y="880" width="8" height="1"/></g>
<g font-size="5" fill="#fff"><text x="893" y="777">2 cm</text><text x="893" y="828">2 cm</text><text x="893" y="878">1 cm</text></g>

<!-- ===== Panel k ===== -->
<text x="917" y="694" font-size="22">k</text>
<text transform="translate(948,785) rotate(-90)" font-size="13" text-anchor="middle" fill="#222">Leaf necrosis ratio (%)</text>
<g stroke="#444" stroke-width="1"><line x1="985" y1="731" x2="985" y2="824.3"/><line x1="985" y1="824.3" x2="1165" y2="824.3"/>
<line x1="981" y1="731" x2="985" y2="731"/><line x1="981" y1="754.3" x2="985" y2="754.3"/><line x1="981" y1="777.6" x2="985" y2="777.6"/><line x1="981" y1="801" x2="985" y2="801"/><line x1="981" y1="824.3" x2="985" y2="824.3"/>
<line x1="1033" y1="824.3" x2="1033" y2="828"/><line x1="1087" y1="824.3" x2="1087" y2="828"/><line x1="1140" y1="824.3" x2="1140" y2="828"/></g>
<g font-size="13" fill="#222" text-anchor="end"><text x="980" y="736">40</text><text x="980" y="759">30</text><text x="980" y="782">20</text><text x="980" y="806">10</text><text x="980" y="829">0</text></g>
<rect x="1009" y="760.8" width="48" height="63.5" fill="#f07ecb" stroke="#555" stroke-width="1"/>
<rect x="1063" y="750.8" width="48" height="73.5" fill="#fb8a55" stroke="#555" stroke-width="1"/>
<rect x="1117" y="799.8" width="46" height="24.5" fill="#3cc49c" stroke="#555" stroke-width="1"/>
<g stroke="#222" stroke-width="1">
<line x1="1033" y1="752.7" x2="1033" y2="768.3"/><line x1="1026" y1="752.7" x2="1040" y2="752.7"/><line x1="1026" y1="768.3" x2="1040" y2="768.3"/>
<line x1="1087" y1="748.5" x2="1087" y2="752.7"/><line x1="1080" y1="748.5" x2="1094" y2="748.5"/>
<line x1="1140" y1="797.5" x2="1140" y2="801"/><line x1="1133" y1="797.5" x2="1147" y2="797.5"/>
</g>
<g fill="#111"><circle cx="1028" cy="753" r="2.3"/><circle cx="1038" cy="757" r="2.3"/><circle cx="1033" cy="768" r="2.3"/>
<circle cx="1080" cy="750" r="2.3"/><circle cx="1088" cy="749" r="2.3"/><circle cx="1095" cy="751" r="2.3"/>
<circle cx="1133" cy="799" r="2.3"/><circle cx="1140" cy="799.5" r="2.3"/><circle cx="1147" cy="799" r="2.3"/></g>
<g font-size="14" fill="#222" text-anchor="middle"><text x="1033" y="747">a</text><text x="1087" y="743">a</text><text x="1140" y="792">b</text></g>
<g font-size="11" font-style="italic" fill="#222" text-anchor="middle">
<text x="1030" y="847">EV</text><text x="1082" y="847" textLength="76" lengthAdjust="spacingAndGlyphs">Pro-P-INS-W17::</text><text x="1086" y="863">W17-1301</text><text x="1146" y="847">Pro-W17::</text><text x="1142" y="863">W17-1301</text>
</g>
</svg>
</body></html>
